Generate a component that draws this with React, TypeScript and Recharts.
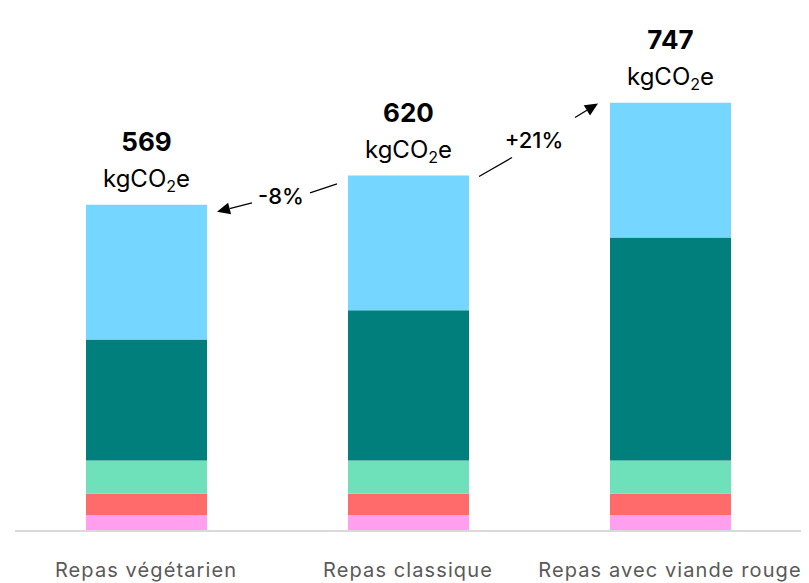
import { BarChart, Bar, XAxis, YAxis, LabelList } from "recharts";

const categories = ["Repas végétarien", "Repas classique", "Repas avec viande rouge"];
const rose = [28, 28, 28];
const rouge = [37, 37, 37];
const vert = [58, 58, 58];
const sarcelle = [211, 262, 389];
const bleu = [235, 235, 235];
const totals = [569, 620, 747];
const changeLabels = ["-8%", "+21%"];

const data = categories.map((name, i) => ({
  name,
  rose: rose[i],
  rouge: rouge[i],
  vert: vert[i],
  sarcelle: sarcelle[i],
  bleu: bleu[i],
}));

const FONT = "Inter, 'Noto Sans', sans-serif";

function Arrow({ x1, y1, x2, y2, head }: { x1: number; y1: number; x2: number; y2: number; head?: boolean }) {
  const a = Math.atan2(y2 - y1, x2 - x1);
  const len = 13;
  const w = 6;
  const bx = x2 - len * Math.cos(a);
  const by = y2 - len * Math.sin(a);
  const px = -Math.sin(a) * w;
  const py = Math.cos(a) * w;
  return (
    <g>
      <line x1={x1} y1={y1} x2={head ? bx : x2} y2={head ? by : y2} stroke="#000" strokeWidth={1.3} />
      {head && <polygon points={`${x2},${y2} ${bx + px},${by + py} ${bx - px},${by - py}`} fill="#000" />}
    </g>
  );
}

function TopLabel(props: any) {
  const { x, y, width, index } = props;
  const cx = x + width / 2;
  const rx = x + width;
  return (
    <g fontFamily={FONT}>
      <text x={cx} y={y - 54} textAnchor="middle" fontSize={26} fontWeight={700} fill="#000">
        {totals[index]}
      </text>
      <text x={cx} y={y - 18} textAnchor="middle" fontSize={24} fill="#000">
        kgCO<tspan fontSize={16} dy={5}>2</tspan>
        <tspan dy={-5}>e</tspan>
      </text>
      {index === 0 && (
        <g>
          <Arrow x1={rx + 45} y1={y - 2} x2={rx + 10} y2={y + 7} head />
          <text x={rx + 74} y={y - 9} textAnchor="middle" dominantBaseline="central" fontSize={22} fontWeight={500} fill="#000">
            {changeLabels[0]}
          </text>
          <Arrow x1={rx + 103} y1={y - 12} x2={rx + 130} y2={y - 21} />
        </g>
      )}
      {index === 1 && (
        <g>
          <Arrow x1={rx + 10} y1={y + 1} x2={rx + 43} y2={y - 18} />
          <text x={rx + 65} y={y - 36} textAnchor="middle" dominantBaseline="central" fontSize={22} fontWeight={500} fill="#000">
            {changeLabels[1]}
          </text>
          <Arrow x1={rx + 106} y1={y - 58} x2={rx + 129} y2={y - 72} head />
        </g>
      )}
    </g>
  );
}

function CategoryTick(props: any) {
  const { x, y, payload } = props;
  return (
    <text x={x} y={y + 46} textAnchor="middle" fontFamily={FONT} fontSize={20} letterSpacing={1.1} fill="#595959">
      {payload.value}
    </text>
  );
}

export default function App() {
  return (
    <div style={{ position: "absolute", left: 0, top: 0, background: "#fff" }}>
      <BarChart width={809} height={583} data={data} margin={{ top: 15, right: 8, left: 15, bottom: 0 }}>
        <XAxis
          dataKey="name"
          height={52}
          axisLine={{ stroke: "#d9d9d9", strokeWidth: 2 }}
          tickLine={false}
          tickSize={0}
          tickMargin={0}
          tick={<CategoryTick />}
          interval={0}
        />
        <YAxis hide domain={[0, 900]} />
        <Bar dataKey="rose" stackId="a" fill="#FF9FEE" barSize={121} isAnimationActive={false} />
        <Bar dataKey="rouge" stackId="a" fill="#FF6B6B" barSize={121} isAnimationActive={false} />
        <Bar dataKey="vert" stackId="a" fill="#6EE0BA" barSize={121} isAnimationActive={false} />
        <Bar dataKey="sarcelle" stackId="a" fill="#007F7C" barSize={121} isAnimationActive={false} />
        <Bar dataKey="bleu" stackId="a" fill="#75D7FF" barSize={121} isAnimationActive={false}>
          <LabelList dataKey="bleu" content={<TopLabel />} />
        </Bar>
      </BarChart>
    </div>
  );
}
